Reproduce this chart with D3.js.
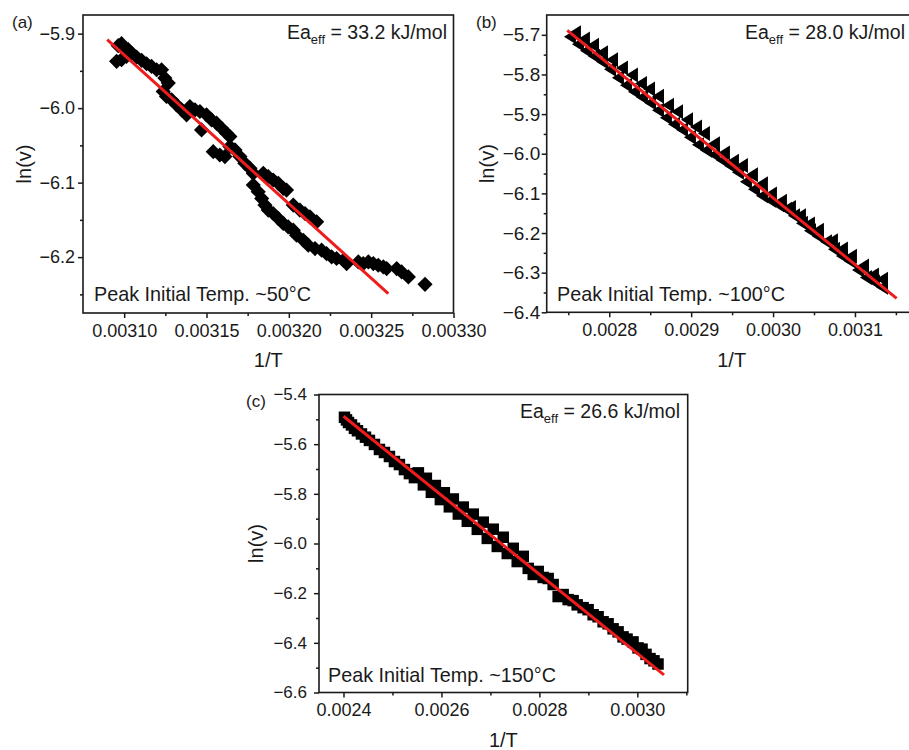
<!DOCTYPE html>
<html lang="en">
<head>
    <meta charset="utf-8" />
    <title>ln(v) vs 1/T</title>
    <script src="https://cdnjs.cloudflare.com/ajax/libs/d3/7.8.5/d3.min.js"></script>
    <style>
        body { margin: 0; background: #fff; }
        svg { display: block; font-family: "Liberation Sans", Arial, sans-serif; }
    </style>
</head>
<body>
<script>
    // ---- panel (a): peak initial temp ~50°C (diamonds)
    const xA = [0.0030964,0.0030984,0.0030998,0.0031025,0.0030954,0.0030984,0.0031014,0.0031045,0.0031075,0.0031106,
        0.0031136,0.0031166,0.0031197,0.0031227,0.0031247,0.0031268,0.0031237,0.0031257,0.0031288,0.0031318,
        0.0031349,0.0031379,0.0031399,0.0031430,0.0031460,0.0031470,0.0031500,0.0031531,0.0031561,0.0031592,
        0.0031622,0.0031642,0.0031541,0.0031581,0.0031612,0.0031642,0.0031673,0.0031703,0.0031733,0.0031764,
        0.0031784,0.0031845,0.0031875,0.0031905,0.0031936,0.0031966,0.0031986,0.0032027,0.0032067,0.0032098,
        0.0032128,0.0032169,0.0031784,0.0031814,0.0031835,0.0031855,0.0031875,0.0031905,0.0031936,0.0031966,
        0.0031996,0.0032027,0.0032047,0.0032088,0.0032118,0.0032159,0.0032199,0.0032229,0.0032260,0.0032290,
        0.0032331,0.0032351,0.0032422,0.0032452,0.0032483,0.0032513,0.0032543,0.0032574,0.0032594,0.0032655,
        0.0032685,0.0032726,0.0032827];
    const yA = [-5.9162,-5.9135,-5.9193,-5.9215,-5.9372,-5.9350,-5.9305,-5.9260,-5.9314,-5.9359,
        -5.9404,-5.9440,-5.9485,-5.9485,-5.9597,-5.9664,-5.9776,-5.9843,-5.9888,-5.9956,
        -6.0023,-6.0090,-5.9978,-6.0023,-6.0045,-6.0292,-6.0090,-6.0158,-6.0202,-6.0270,
        -6.0337,-6.0382,-6.0584,-6.0629,-6.0651,-6.0516,-6.0561,-6.0651,-6.0741,-6.0808,
        -6.0875,-6.0875,-6.0920,-6.0965,-6.1010,-6.1077,-6.1100,-6.1302,-6.1369,-6.1414,
        -6.1459,-6.1526,-6.1032,-6.1122,-6.1212,-6.1302,-6.1369,-6.1414,-6.1481,-6.1548,
        -6.1593,-6.1638,-6.1705,-6.1773,-6.1840,-6.1885,-6.1907,-6.1952,-6.1997,-6.2019,
        -6.2042,-6.2087,-6.2064,-6.2087,-6.2064,-6.2087,-6.2109,-6.2131,-6.2154,-6.2154,
        -6.2199,-6.2266,-6.2365];
    const fitAx = [0.0030897, 0.0032604];
    const fitAy = [-5.908, -6.249];

    // ---- panel (b): ~100°C (left triangles)
    const xB = [0.0027520,0.0027618,0.0027716,0.0027813,0.0027911,0.0028009,0.0028106,0.0028204,0.0028302,0.0028399,
        0.0028497,0.0028595,0.0028692,0.0028790,0.0028888,0.0028985,0.0029083,0.0029181,0.0029278,0.0029376,
        0.0029474,0.0029571,0.0029669,0.0029767,0.0029864,0.0029962,0.0030060,0.0030157,0.0030255,0.0030353,
        0.0030451,0.0030548,0.0030646,0.0030744,0.0030841,0.0030939,0.0031037,0.0031134,0.0031232,0.0031330,
        0.0027581,0.0027691,0.0027801,0.0027911,0.0028033,0.0028155,0.0028277,0.0028387,0.0028485,0.0028595,
        0.0028717,0.0028827,0.0028949,0.0029059,0.0029156,0.0029278,0.0029400,0.0029510,0.0029620,0.0029742,
        0.0029864,0.0029974,0.0030096,0.0030206,0.0030328,0.0030438,0.0030548,0.0030719,0.0030841,0.0030951,
        0.0031098,0.0031220,0.0031330];
    const yB = [-5.7046,-5.7236,-5.7400,-5.7539,-5.7678,-5.7867,-5.8082,-5.8271,-5.8435,-5.8574,
        -5.8713,-5.8903,-5.9092,-5.9256,-5.9395,-5.9584,-5.9773,-5.9912,-6.0026,-6.0165,
        -6.0304,-6.0468,-6.0708,-6.0897,-6.1061,-6.1174,-6.1289,-6.1402,-6.1566,-6.1756,
        -6.1945,-6.2083,-6.2222,-6.2412,-6.2577,-6.2715,-6.2930,-6.3119,-6.3233,-6.3371,
        -5.6947,-5.7107,-5.7265,-5.7450,-5.7630,-5.7835,-5.8015,-5.8225,-5.8364,-5.8549,
        -5.8779,-5.8938,-5.9144,-5.9328,-5.9492,-5.9748,-5.9979,-6.0188,-6.0297,-6.0527,
        -6.0758,-6.1018,-6.1198,-6.1358,-6.1563,-6.1773,-6.1932,-6.2194,-6.2400,-6.2584,
        -6.2830,-6.3060,-6.3169];
    const fitBx = [0.0027487, 0.0031509];
    const fitBy = [-5.689, -6.365];

    // ---- panel (c): ~150°C (squares)
    const xC = [0.0024020,0.0024061,0.0024102,0.0024163,0.0024224,0.0024285,0.0024367,0.0024449,0.0024530,0.0024632,
        0.0024734,0.0024836,0.0024938,0.0025040,0.0025142,0.0025244,0.0025346,0.0025448,0.0025529,0.0025631,
        0.0025692,0.0025794,0.0025876,0.0025978,0.0026059,0.0026161,0.0026243,0.0026345,0.0026446,0.0026528,
        0.0026650,0.0026732,0.0026854,0.0026936,0.0027058,0.0027140,0.0027262,0.0027344,0.0027466,0.0027547,
        0.0027670,0.0027772,0.0027874,0.0027976,0.0028077,0.0028179,0.0028281,0.0028383,0.0028485,0.0028587,
        0.0028689,0.0028771,0.0028893,0.0028995,0.0029097,0.0029199,0.0029301,0.0029403,0.0029505,0.0029607,
        0.0029708,0.0029790,0.0029912,0.0030014,0.0030096,0.0030177,0.0030259,0.0030340,0.0030422];
    const yC = [-5.4917,-5.5022,-5.5128,-5.5225,-5.5362,-5.5460,-5.5589,-5.5719,-5.5849,-5.6011,
        -5.6213,-5.6335,-5.6497,-5.6699,-5.6821,-5.7023,-5.7185,-5.7347,-5.7155,-5.7639,
        -5.7373,-5.7939,-5.7665,-5.8231,-5.7957,-5.8523,-5.8208,-5.8814,-5.8533,-5.9106,
        -5.8817,-5.9430,-5.9141,-5.9795,-5.9424,-6.0119,-5.9748,-6.0403,-6.0193,-6.0727,
        -6.0517,-6.1002,-6.1246,-6.1125,-6.1368,-6.1409,-6.1652,-6.2136,-6.2056,-6.2259,
        -6.2300,-6.2470,-6.2583,-6.2665,-6.2868,-6.2949,-6.3152,-6.3233,-6.3435,-6.3557,
        -6.3760,-6.3849,-6.3962,-6.4205,-6.4254,-6.4465,-6.4634,-6.4724,-6.4853];
    const fitCx = [0.0024, 0.0030544];
    const fitCy = [-5.4875, -6.529];

    // tick values
    const xMajorA = [0.0031, 0.00315, 0.0032, 0.00325, 0.0033];
    const xMinorA = [0.003125, 0.003175, 0.003225, 0.003275];
    const yMajorA = [-5.9, -6.0, -6.1, -6.2];
    const yMinorA = [-5.95, -6.05, -6.15, -6.25];
    const xMajorB = [0.0028, 0.0029, 0.0030, 0.0031];
    const xMinorB = [0.00275, 0.00285, 0.00295, 0.00305, 0.00315];
    const yMajorB = [-5.7, -5.8, -5.9, -6.0, -6.1, -6.2, -6.3, -6.4];
    const yMinorB = [-5.75, -5.85, -5.95, -6.05, -6.15, -6.25, -6.35];
    const xMajorC = [0.0024, 0.0026, 0.0028, 0.0030];
    const xMinorC = [0.0025, 0.0027, 0.0029, 0.0031];
    const yMajorC = [-5.4, -5.6, -5.8, -6.0, -6.2, -6.4, -6.6];
    const yMinorC = [-5.5, -5.7, -5.9, -6.1, -6.3, -6.5];

    const labels = ["(a)", "(b)", "(c)"];
    const eaValues = ["33.2", "28.0", "26.6"];
    const peakTemps = ["50", "100", "150"];

    const svg = d3.select("body").append("svg")
        .attr("width", 909)
        .attr("height", 750);

    // Origin-like marker shapes
    const diamond = {
        draw(ctx, size) {
            const r = Math.sqrt(size / 2);
            ctx.moveTo(0, -r); ctx.lineTo(r, 0); ctx.lineTo(0, r); ctx.lineTo(-r, 0); ctx.closePath();
        }
    };
    const leftTriangle = {
        draw(ctx, size) {
            const s = Math.sqrt(size / 90);
            const h = 15 * s, w = 12 * s;
            ctx.moveTo(w / 2, -h / 2); ctx.lineTo(w / 2, h / 2); ctx.lineTo(-w / 2, 0); ctx.closePath();
        }
    };

    const panels = [
        {
            label: labels[0], ea: eaValues[0], temp: peakTemps[0],
            xs: xA, ys: yA, fx: fitAx, fy: fitAy, symbol: diamond, size: 115,
            left: 83, right: 453.5, top: 15, bottom: 313,
            xDomain: [0.003075, 0.0033], yDomain: [-6.275, -5.875],
            xMajor: xMajorA, xMinor: xMinorA, yMajor: yMajorA, yMinor: yMinorA,
            xFmt: d3.format(".5f"), yFmt: d3.format(".1f"),
            yFont: 18, yPad: 3,
            labelPos: [12, 28], yTitleX: 31, eaPos: [447, 39], tempPos: [94, 301], xTitleY: 367
        },
        {
            label: labels[1], ea: eaValues[1], temp: peakTemps[1],
            xs: xB, ys: yB, fx: fitBx, fy: fitBy, symbol: leftTriangle, size: 90,
            left: 546.7, right: 916.7, top: 15, bottom: 312.3,
            xDomain: [0.0027236, 0.0031754], yDomain: [-6.4, -5.65],
            xMajor: xMajorB, xMinor: xMinorB, yMajor: yMajorB, yMinor: yMinorB,
            xFmt: d3.format(".4f"), yFmt: d3.format(".1f"),
            yFont: 19, yPad: 1.5,
            labelPos: [476, 28], yTitleX: 494, eaPos: [905, 39], tempPos: [557, 301], xTitleY: 367
        },
        {
            label: labels[2], ea: eaValues[2], temp: peakTemps[2],
            xs: xC, ys: yC, fx: fitCx, fy: fitCy, symbol: d3.symbolSquare, size: 132,
            left: 319, right: 687.7, top: 394.5, bottom: 692.5,
            xDomain: [0.00235, 0.0031028], yDomain: [-6.6, -5.4],
            xMajor: xMajorC, xMinor: xMinorC, yMajor: yMajorC, yMinor: yMinorC,
            xFmt: d3.format(".4f"), yFmt: d3.format(".1f"),
            yFont: 17, yPad: 7,
            labelPos: [246, 407], yTitleX: 263, eaPos: [680, 418], tempPos: [328, 682], xTitleY: 747
        }
    ];

    panels.forEach(drawPanel);

    function styleAxis(sel, fontSize) {
        sel.select(".domain").remove();
        sel.selectAll("line").attr("stroke", "#1a1a1a").attr("stroke-width", 1.5);
        sel.selectAll("text")
            .attr("fill", "#1a1a1a")
            .style("font-size", fontSize + "px")
            .style("font-family", "'Liberation Sans', Arial, sans-serif");
    }

    function drawPanel(p) {
        const g = svg.append("g");
        const x = d3.scaleLinear().domain(p.xDomain).range([p.left, p.right]);
        const y = d3.scaleLinear().domain(p.yDomain).range([p.bottom, p.top]);

        // minor + major ticks, pointing outward
        g.append("g").attr("transform", `translate(0,${p.bottom})`)
            .call(d3.axisBottom(x).tickValues(p.xMinor).tickSize(3).tickFormat(""))
            .call(styleAxis, 18);
        g.append("g").attr("transform", `translate(0,${p.bottom})`)
            .call(d3.axisBottom(x).tickValues(p.xMajor).tickSize(5).tickPadding(6).tickFormat(p.xFmt))
            .call(styleAxis, 18);
        g.append("g").attr("transform", `translate(${p.left},0)`)
            .call(d3.axisLeft(y).tickValues(p.yMinor).tickSize(3).tickFormat(""))
            .call(styleAxis, p.yFont);
        g.append("g").attr("transform", `translate(${p.left},0)`)
            .call(d3.axisLeft(y).tickValues(p.yMajor).tickSize(5).tickPadding(p.yPad).tickFormat(p.yFmt))
            .call(styleAxis, p.yFont);

        // data points
        const pts = p.xs.map((v, i) => [v, p.ys[i]]);
        const sym = d3.symbol().type(p.symbol).size(p.size);
        g.append("g")
            .selectAll("path")
            .data(pts)
            .join("path")
            .attr("d", sym)
            .attr("transform", d => `translate(${x(d[0])},${y(d[1])})`)
            .attr("fill", "#000");

        // linear fit
        const line = d3.line().x(d => x(d[0])).y(d => y(d[1]));
        g.append("path")
            .datum(p.fx.map((v, i) => [v, p.fy[i]]))
            .attr("d", line)
            .attr("fill", "none")
            .attr("stroke", "#ee1c1c")
            .attr("stroke-width", 3);

        // frame
        g.append("rect")
            .attr("x", p.left).attr("y", p.top)
            .attr("width", p.right - p.left).attr("height", p.bottom - p.top)
            .attr("fill", "none")
            .attr("stroke", "#1a1a1a")
            .attr("stroke-width", 1.6);

        // texts
        g.append("text")
            .attr("x", p.labelPos[0]).attr("y", p.labelPos[1])
            .style("font-size", "17px").attr("fill", "#1a1a1a")
            .text(p.label);

        g.append("text")
            .attr("transform", `translate(${p.yTitleX},${(p.top + p.bottom) / 2}) rotate(-90)`)
            .attr("text-anchor", "middle")
            .style("font-size", "20px").attr("fill", "#1a1a1a")
            .text("ln(v)");

        g.append("text")
            .attr("x", (p.left + p.right) / 2).attr("y", p.xTitleY)
            .attr("text-anchor", "middle")
            .style("font-size", "20px").attr("fill", "#1a1a1a")
            .text("1/T");

        const ea = g.append("text")
            .attr("x", p.eaPos[0]).attr("y", p.eaPos[1])
            .attr("text-anchor", "end")
            .style("font-size", "19.5px").attr("fill", "#1a1a1a");
        ea.append("tspan").text("Ea");
        ea.append("tspan").attr("dy", 5).style("font-size", "13px").text("eff");
        ea.append("tspan").attr("dy", -5).text(` = ${p.ea} kJ/mol`);

        g.append("text")
            .attr("x", p.tempPos[0]).attr("y", p.tempPos[1])
            .style("font-size", "19.8px").attr("fill", "#1a1a1a")
            .text(`Peak Initial Temp. ~${p.temp}°C`);
    }
</script>
</body>
</html>
